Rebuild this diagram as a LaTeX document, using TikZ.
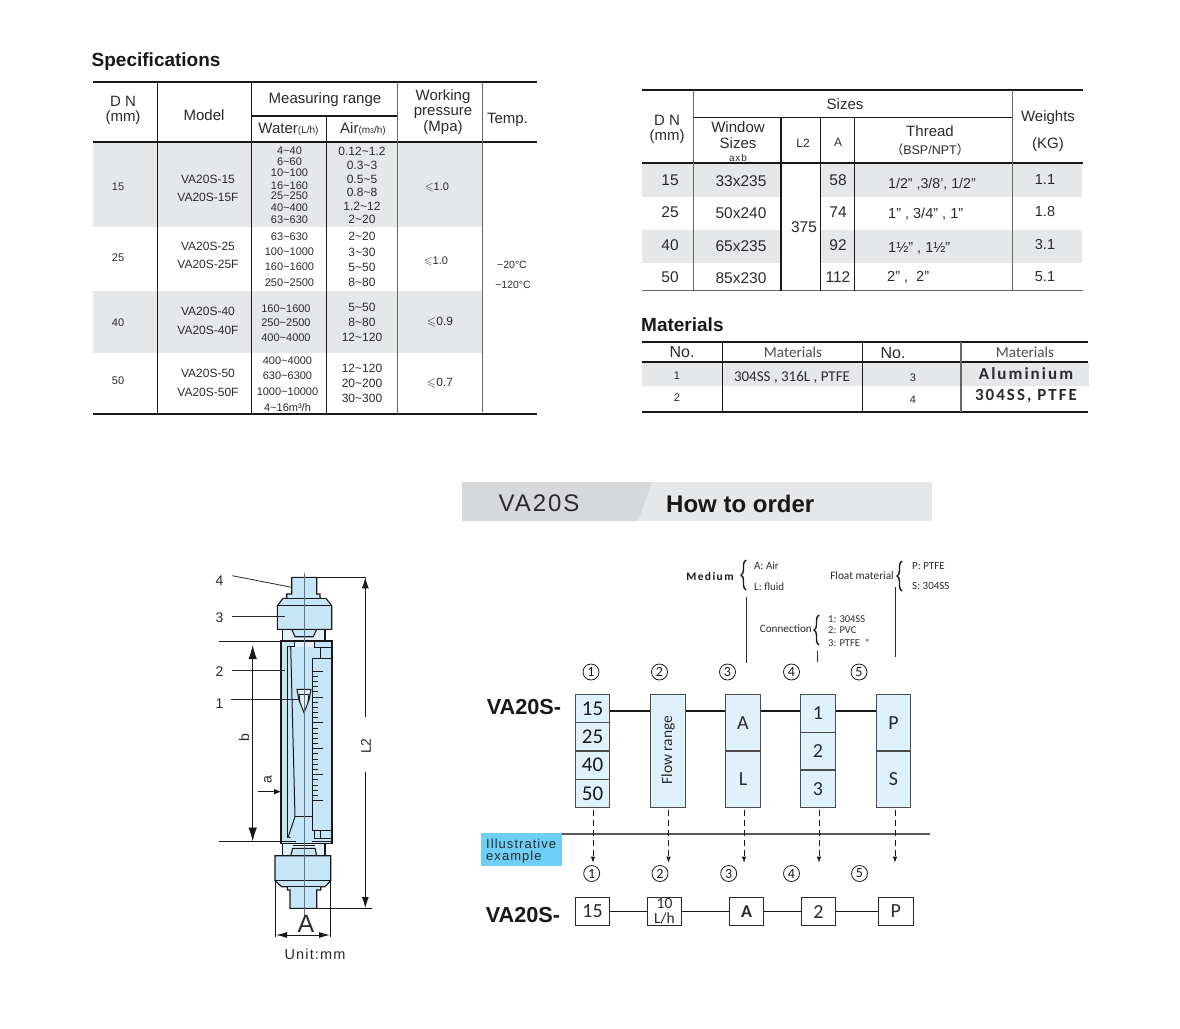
\documentclass[tikz,border=0pt]{standalone}
\usepackage{fontspec}
\usepackage{amssymb}
\usepackage{xcolor}
\usepackage{tikz}
\usetikzlibrary{arrows.meta, decorations.pathreplacing}
\setmainfont{Liberation Sans}
\newfontfamily\orderfont{Carlito}
\newfontfamily\spacedfont[LetterSpace=12]{Carlito}
\newfontfamily\widefont[LetterSpace=8]{Liberation Sans}
\newfontfamily\cjkfont{Noto Sans CJK SC}
\newcommand{\fs}[1]{\fontsize{#1}{#1}\selectfont}
\newcommand{\tld}{\textasciitilde}
\definecolor{inkdark}{HTML}{1A1718}
\definecolor{inkgray}{HTML}{2A2A2C}
\definecolor{bandgray}{HTML}{E6E7E8}
\definecolor{bannerdark}{HTML}{D6D8DA}
\definecolor{partblue}{HTML}{C6E6F8}
\definecolor{partpale}{HTML}{E2F2FB}
\definecolor{optblue}{HTML}{DFF2FC}
\definecolor{tagblue}{HTML}{6DCFF6}
\definecolor{axisgray}{HTML}{5A7688}
\tikzset{
  txt/.style={inner sep=0pt, text=inkgray},
  head/.style={txt, font=\fs{15}},
  cellsm/.style={txt, font=\fs{11}},
  cellmd/.style={txt, font=\fs{12}},
  cellbig/.style={txt, font=\fs{15.5}},
  title/.style={inner sep=0pt, text=inkdark, font=\bfseries\fs{19}},
  rule/.style={line width=2pt, draw=inkdark},
  grid/.style={line width=1.1pt, draw=inkdark},
  gridgray/.style={line width=1.3pt, draw=black!60},
  part/.style={line width=1.1pt, draw=inkdark, fill=partblue},
  pale/.style={line width=1.1pt, draw=inkdark, fill=partpale},
  thinpart/.style={line width=1pt, draw=inkdark},
  tick/.style={line width=.8pt, draw=inkdark},
  dim/.style={line width=.9pt, draw=inkdark},
  bigtip/.style={{Latex[length=14pt,width=8.5pt]}-{Latex[length=14pt,width=8.5pt]}},
  lead/.style={line width=.8pt, draw=inkgray},
  optbox/.style={draw=black!70, line width=1.2pt, fill=optblue, inner sep=0pt, minimum width=34.4pt, text=inkgray, font=\orderfont\fs{20}},
  picked/.style={draw=inkgray, line width=1pt, fill=white, inner sep=0pt, minimum width=34.4pt, minimum height=28.4pt, text=inkgray, font=\orderfont\fs{20}},
  link/.style={line width=2.3pt, draw=inkdark},
  linklow/.style={line width=1.7pt, draw=inkdark},
  dropline/.style={dash pattern=on 6pt off 4pt, line width=.9pt, draw=inkdark, -{Latex[length=6pt,width=4.5pt]}},
  circnum/.style={circle, draw=inkdark, line width=.8pt, inner sep=0pt, minimum size=16pt, text=inkdark, font=\orderfont\fs{14}},
  legend/.style={inner sep=0pt, text=inkgray, font=\orderfont\fs{11}},
  curly/.style={decorate, decoration={brace, amplitude=5pt}, line width=1.4pt, draw=inkdark},
}
\begin{document}
\begin{tikzpicture}[x=1pt, y=-1pt]
  \useasboundingbox (0,0) rectangle (1180,1028);

  % Specifications table: bands and lines
  \fill[bandgray] (93,142) rectangle (483,226.5);
  \fill[bandgray] (93,290.7) rectangle (483,352.7);
  \draw[rule] (93,82) -- (537,82);
  \draw[rule] (93,141.7) -- (537,141.7);
  \draw[grid] (93,414) -- (537,414);
  \draw[grid] (251.3,116) -- (397.7,116);
  \foreach \x in {157.3, 251.3} {\draw[grid] (\x,82) -- (\x,414);}
  \draw[grid] (326.7,116) -- (326.7,414);
  \draw[gridgray] (397.7,82) -- (397.7,414);
  \draw[gridgray] (482.7,82) -- (482.7,412);
  % Specifications table: header
  \node[title, anchor=west] (spec-title) at (91.5,62) {Specifications};
  \node[head] (spec-dn) at (123,101) {D N};
  \node[head] (spec-mm) at (123,117.5) {(mm)};
  \node[head] (spec-model) at (204,115) {Model};
  \node[head] (spec-range) at (325,100) {Measuring range};
  \node[head] (spec-water) at (288.5,129) {Water{\fs{10}(L/h)}};
  \node[head] (spec-air) at (363,129) {Air{\fs{10}(m{\fs{7}3}/h)}};
  \node[head] (spec-work) at (443,96.5) {Working};
  \node[head] (spec-press) at (443,113.5) {pressure};
  \node[head] (spec-mpa) at (443,128) {(Mpa)};
  \node[head] (spec-temp) at (507.5,119.5) {Temp.};
  % Specifications table: DN and model columns
  \foreach \dn/\y/\ya/\yb in {15/186.5/179/197, 25/258/246/264, 40/323/311/330, 50/380.5/373/392} {
    \node[cellsm] (dn-\dn) at (118,\y) {\dn};
    \node[cellmd] (model-\dn) at (208,\ya) {VA20S-\dn};
    \node[cellmd] (modelf-\dn) at (208,\yb) {VA20S-\dn F};
  }
  % Specifications table: water column
  \foreach \y/\t [count=\i] in {150.5/4\tld40, 162/6\tld60, 173/10\tld100, 185.5/16\tld160, 196/25\tld250, 208/40\tld400, 220/63\tld630,
      236.5/63\tld630, 252/100\tld1000, 267/160\tld1600, 282.5/250\tld2500} {
    \node[cellsm] (water-\i) at (289.5,\y) {\t};
  }
  \foreach \y/\t [count=\i from 12] in {308.5/160\tld1600, 323/250\tld2500, 338/400\tld4000} {
    \node[cellsm] (water-\i) at (286,\y) {\t};
  }
  \foreach \y/\t [count=\i from 15] in {361/400\tld4000, 376/630\tld6300, 392/1000\tld10000, 407.5/{4\tld16m³/h}} {
    \node[cellsm] (water-\i) at (287.5,\y) {\t};
  }
  % Specifications table: air column
  \foreach \y/\t [count=\i] in {151/0.12\tld1.2, 165/0.3\tld3, 179/0.5\tld5, 192/0.8\tld8, 206/1.2\tld12, 219/2\tld20,
      236/2\tld20, 252/3\tld30, 267/5\tld50, 282/8\tld80,
      307/5\tld50, 322/8\tld80, 337/12\tld120,
      368/12\tld120, 383/20\tld200, 398/30\tld300} {
    \node[cellmd] (air-\i) at (362,\y) {\t};
  }
  % Specifications table: pressure and temperature
  \node[cellsm] (press-15) at (437,187.5) {$\leqslant$1.0};
  \node[cellsm] (press-25) at (436,261) {$\leqslant$1.0};
  \node[cellmd] (press-40) at (440,322) {$\leqslant$0.9};
  \node[cellmd] (press-50) at (440,383) {$\leqslant$0.7};
  \node[cellsm, font=\fs{10.5}] (temp-low) at (512,265) {\textminus20°C};
  \node[cellsm, font=\fs{10.5}] (temp-high) at (513,285) {\tld120°C};

  % Sizes table: bands and lines
  \fill[bandgray] (642,164) rectangle (781,197.3);
  \fill[bandgray] (820,164) rectangle (1082,197.3);
  \fill[bandgray] (642,230) rectangle (781,262.7);
  \fill[bandgray] (820,230) rectangle (1082,262.7);
  \draw[rule] (642,90) -- (1083,90);
  \draw[rule] (642,163.3) -- (1083,163.3);
  \draw[gridgray] (642,290.7) -- (1083,290.7);
  \draw[grid] (693.3,117.3) -- (1012.7,117.3);
  \draw[gridgray] (693.3,90) -- (693.3,290.7);
  \draw[grid] (781,117.3) -- (781,290.7);
  \draw[grid] (820.3,117.3) -- (820.3,290.7);
  \draw[grid] (854.3,117.3) -- (854.3,290.7);
  \draw[gridgray] (1012.7,90) -- (1012.7,290.7);
  % Sizes table: header
  \node[head] (size-dn) at (667,120) {D N};
  \node[head] (size-mm) at (667,136.5) {(mm)};
  \node[head] (size-head) at (845,104.5) {Sizes};
  \node[head] (size-win) at (738,127.5) {Window};
  \node[head] (size-sizes) at (738,143) {Sizes};
  \node[txt, font=\widefont\fs{10}] (size-axb) at (738,157.5) {axb};
  \node[cellmd] (size-l2) at (803,143) {L2};
  \node[cellmd] (size-a) at (838,142.5) {A};
  \node[head] (size-thread) at (930,131.5) {Thread};
  \node[txt, font=\fs{12.5}] (size-bsp) at (930,149.5) {{\cjkfont（}BSP/NPT{\cjkfont）}};
  \node[head] (size-wt) at (1048,118) {Weights};
  \node[head] (size-kg) at (1048,145) {(KG)};
  % Sizes table: rows
  \foreach \dn/\win/\a/\w/\y in {15/33x235/58/1.1/180, 25/50x240/74/1.8/212.5, 40/65x235/92/3.1/245, 50/85x230/112/5.1/277} {
    \node[cellbig] (row-\dn) at (670,\y) {\dn};
    \node[cellbig] (win-\dn) at (741,\y+1) {\win};
    \node[cellbig] (a-\dn) at (838,\y) {\a};
    \node[cellbig, font=\fs{14.5}] (wt-\dn) at (1045,\y-.5) {\w};
  }
  \node[cellbig] (len-all) at (804,227) {375};
  \node[head, font=\fs{14.2}, anchor=west] (th-15) at (888,184) {1/2" ,3/8', 1/2"};
  \node[head, font=\fs{14.5}, anchor=west] (th-25) at (888,214) {1" , 3/4" , 1"};
  \node[head, font=\fs{14.5}, anchor=west] (th-40) at (888,248) {1½" , 1½"};
  \node[head, font=\fs{14.5}, anchor=west] (th-50) at (887,277) {2" ,\ \ 2"};

  % Materials table
  \fill[bandgray] (642,362) rectangle (1089,385.7);
  \draw[rule] (642,341.7) -- (1088,341.7);
  \draw[rule] (642,361.7) -- (1088,361.7);
  \draw[rule] (642,411.7) -- (1088,411.7);
  \draw[grid] (722.7,341.7) -- (722.7,411.7);
  \draw[grid] (862.3,341.7) -- (862.3,411.7);
  \draw[gridgray] (961,341.7) -- (961,411.7);
  \node[title, anchor=west] (mat-title) at (641,325) {Materials};
  \node[head, font=\fs{16}] (mat-no-a) at (682,352) {No.};
  \node[txt, font=\orderfont\fs{15.2}, text=black!70] (mat-name-a) at (793,352.5) {Materials};
  \node[head, font=\fs{16}] (mat-no-b) at (893,353) {No.};
  \node[txt, font=\orderfont\fs{15.2}, text=black!70] (mat-name-b) at (1025,352) {Materials};
  \node[cellsm] (mat-1) at (677,376) {1};
  \node[txt, font=\orderfont\fs{15}] (mat-1-text) at (792,377) {304SS , 316L , PTFE};
  \node[cellsm] (mat-3) at (913,378) {3};
  \node[txt, font=\spacedfont\bfseries\fs{17}] (mat-3-text) at (1026,374) {Aluminium};
  \node[cellsm] (mat-2) at (677,398) {2};
  \node[cellsm] (mat-4) at (913,400) {4};
  \node[txt, font=\spacedfont\bfseries\fs{17}] (mat-4-text) at (1026,396) {304SS, PTFE};

  % How to order banner
  \fill[bandgray] (462,482) rectangle (932,521);
  \fill[bannerdark] (462,482) -- (652,482) -- (638,521) -- (462,521) -- cycle;
  \node[txt, font=\widefont\fs{24}] (ban-model) at (539,503) {VA20S};
  \node[title, font=\bfseries\fs{24}, anchor=west] (ban-title) at (666,503.5) {How to order};

  % Flowmeter: upper fitting
  \draw[pale] (282.3,629.3) rectangle (325,641);
  \draw[part] (291.7,629.3) -- (295,636.7) -- (313.3,636.7) -- (316.7,629.3) -- cycle;
  \draw[part] (291.7,577.3) -- (316.7,577.3) -- (316.7,594) -- (320,594) -- (320,598.3) -- (326,598.3) -- (331.7,605.7) -- (331.7,629.3)
    -- (277.3,629.3) -- (277.3,605.7) -- (283,598.3) -- (286.7,598.3) -- (286.7,594) -- (291.7,594) -- cycle;
  \draw[thinpart] (277.3,605.7) -- (331.7,605.7);
  \draw[thinpart] (283,598.3) -- (326,598.3);
  % Flowmeter: body and tube
  \draw[part] (281,641) rectangle (332,843.3);
  \fill[partpale] (295,641) rectangle (314.3,647);
  \draw[thinpart] (281,641) -- (332,641);
  \draw[thinpart] (287.3,646) -- (294.3,646) -- (294.3,641);
  \draw[thinpart] (314.3,641) -- (314.3,647) -- (332,647);
  \draw[thinpart] (287.3,646) -- (287.3,838);
  \draw[thinpart] (290.7,647) -- (295,816.7) -- (288.3,836.7) -- (290.3,838);
  \draw[thinpart] (295,816.7) -- (311.7,816.7);
  \draw[thinpart] (320,647) -- (320,658);
  % Flowmeter: scale plate
  \draw[thinpart] (312,830.7) -- (312,658) -- (332,658);
  \draw[thinpart] (312,830.7) -- (332,830.7);
  \draw[thinpart] (314,830.7) -- (314,838.3) -- (332,838.3);
  \draw[thinpart] (320,830.7) -- (320,838.3);
  \draw[thinpart] (312,841) -- (332,841);
  \draw[line width=1.4pt, draw=inkdark] (281,841.5) -- (296,841.5);
  \foreach \k in {0,...,5} {
    \draw[tick] (312,{671+\k*25.9}) -- (322.7,{671+\k*25.9});
    \ifnum\k<5
      \foreach \m in {1,...,4} {\draw[tick] (312,{671+\k*25.9+\m*5.18}) -- (318,{671+\k*25.9+\m*5.18});}
    \fi
  }
  % Flowmeter: float
  \draw[thinpart, fill=partpale] (297,689.3) -- (311,689.3) -- (309,700) -- (304,712.7) -- (299,700) -- cycle;
  \draw[thinpart] (299,694) -- (309,694);
  \draw[thinpart] (299,694) -- (300,702);
  \draw[thinpart] (309,694) -- (308,702);
  % Flowmeter: lower fitting
  \draw[pale] (282.3,843.3) rectangle (325,855.7);
  \draw[part] (290.7,855.7) -- (292.7,848.3) -- (315,848.3) -- (316.7,855.7) -- cycle;
  \draw[thinpart] (292.7,845) -- (315,845);
  \draw[part] (275,855.7) -- (330.7,855.7) -- (330.7,880.7) -- (325,886.7) -- (320.7,886.7) -- (320.7,890) -- (316.7,890) -- (316.7,908.3)
    -- (290,908.3) -- (290,890) -- (287.3,890) -- (287.3,886.7) -- (281.7,886.7) -- (275,880.7) -- cycle;
  \draw[thinpart] (275,880.7) -- (330.7,880.7);
  \draw[thinpart] (281.7,886.7) -- (325,886.7);
  % Flowmeter: centre line
  \draw[line width=.8pt, draw=axisgray] (304,573) -- (304,917);

  % Flowmeter: part labels and leaders
  \node[head, font=\fs{14}] (part-4) at (219.5,580.5) {4};
  \node[head, font=\fs{14}] (part-3) at (219.5,617.5) {3};
  \node[head, font=\fs{14}] (part-2) at (219.5,672) {2};
  \node[head, font=\fs{14}] (part-1) at (219.5,703.5) {1};
  \coordinate (end-4) at (291.7,587.3);
  \coordinate (end-3) at (285,616.7);
  \coordinate (end-2) at (285,670);
  \coordinate (end-1) at (300,699.3);
  \draw[lead] (232.3,575.7) -- (end-4);
  \draw[lead] (232.3,616.7) -- (end-3);
  \draw[lead] (232.3,670) -- (end-2);
  \draw[lead] (231,699.3) -- (end-1);

  % Flowmeter: dimensions
  \draw[dim] (219.3,641) -- (281,641);
  \draw[dim] (219.3,841.7) -- (296,841.7);
  \draw[dim, bigtip] (252.7,645) -- (252.7,841.5);
  \node[txt, font=\fs{14}, rotate=90] (dim-b) at (244,738) {b};
  \draw[dim] (316.7,577.3) -- (366,577.3);
  \draw[dim] (316.7,908) -- (371.7,908);
  \draw[dim, -{Latex[length=11pt,width=7pt]}] (365.3,716.7) -- (365.3,577.3);
  \draw[dim, -{Latex[length=11pt,width=7pt]}] (365.3,772.3) -- (365.3,908);
  \node[txt, font=\fs{14}, rotate=90] (dim-l2) at (366,746) {L2};
  \draw[dim, -{Latex[length=7pt,width=6pt]}] (258.3,791.7) -- (281,791.7);
  \node[txt, font=\fs{14}, rotate=90] (dim-a) at (268,780) {a};
  \draw[dim] (275,880.7) -- (275,937.3);
  \draw[dim] (330.5,880.7) -- (330.5,937.3);
  \draw[dim, {Latex[length=11pt,width=6pt]}-{Latex[length=11pt,width=6pt]}] (276,935) -- (330,935);
  \node[txt, font=\fs{25}] (dim-cap) at (306,924) {A};
  \node[txt, font=\widefont\fs{14.5}] (unit) at (315,954) {Unit:mm};

  % Option legend above the order code
  \node[txt, font=\spacedfont\bfseries\fs{11.5}, text=inkdark] (leg-medium) at (710,576.5) {Medium};
  \coordinate (brace-m-top) at (746,560);
  \coordinate (brace-m-low) at (746,590);
  \draw[curly] (brace-m-low) -- (brace-m-top);
  \node[legend, anchor=west] (leg-air) at (754,565.5) {A: Air};
  \node[legend, anchor=west] (leg-fluid) at (754,587) {L: fluid};
  \node[legend, font=\orderfont\fs{11.3}, anchor=east] (leg-float) at (894,576) {Float material};
  \coordinate (brace-f-top) at (902,561);
  \coordinate (brace-f-low) at (902,591);
  \draw[curly] (brace-f-low) -- (brace-f-top);
  \node[legend, anchor=west] (leg-ptfe) at (912,566) {P: PTFE};
  \node[legend, anchor=west] (leg-ss) at (912,586) {S: 304SS};
  \node[legend, font=\orderfont\fs{11.2}, anchor=east] (leg-conn) at (812,629) {Connection};
  \coordinate (brace-c-top) at (819,615);
  \coordinate (brace-c-low) at (819,645);
  \draw[curly] (brace-c-low) -- (brace-c-top);
  \node[legend, font=\orderfont\fs{10.5}, anchor=west] (leg-c1) at (828,619) {1: 304SS};
  \node[legend, font=\orderfont\fs{10.5}, anchor=west] (leg-c2) at (828,630.5) {2: PVC};
  \node[legend, font=\orderfont\fs{10.5}, anchor=west] (leg-c3) at (828,643) {3: PTFE\ \ *};
  \coordinate (tie-m-a) at (746.3,596.7);
  \coordinate (tie-m-b) at (746.3,663);
  \coordinate (tie-f-a) at (895.7,587.3);
  \coordinate (tie-f-b) at (895.7,656.7);
  \coordinate (tie-c-a) at (817.7,651);
  \coordinate (tie-c-b) at (817.7,662);
  \draw[lead] (tie-m-a) -- (tie-m-b);
  \draw[lead] (tie-f-a) -- (tie-f-b);
  \draw[lead] (tie-c-a) -- (tie-c-b);

  % Order code: numbers and option boxes
  \foreach \x/\n in {591/1, 659.5/2, 727.5/3, 791.5/4, 859/5} {
    \node[circnum] (top-\n) at (\x,672) {\n};
  }
  \node[title, font=\bfseries\fs{21.7}] (code-top) at (524,707) {VA20S-};
  \node[optbox, minimum height=28.4pt, font=\orderfont\fs{21}, text=inkdark] (dn-a) at (592.5,708.5) {15};
  \node[optbox, minimum height=28.3pt, font=\orderfont\fs{21}, text=inkdark] (dn-b) at (592.5,736.8) {25};
  \node[optbox, minimum height=28.3pt, font=\orderfont\fs{21}, text=inkdark] (dn-c) at (592.5,765.1) {40};
  \node[optbox, minimum height=28.4pt, font=\orderfont\fs{21}, text=inkdark] (dn-d) at (592.5,793.5) {50};
  \node[optbox, minimum height=113.4pt] (flow) at (668,751) {};
  \node[txt, font=\orderfont\fs{15.5}, rotate=90] (flow-text) at (668,750) {Flow range};
  \node[optbox, minimum height=56.7pt] (med-a) at (743,722.7) {\raisebox{-4pt}{A}};
  \node[optbox, minimum height=56.7pt] (med-l) at (743,779.4) {L};
  \node[optbox, minimum height=37.8pt] (con-1) at (818,713.2) {1};
  \node[optbox, minimum height=37.8pt] (con-2) at (818,751) {2};
  \node[optbox, minimum height=37.8pt] (con-3) at (818,788.8) {3};
  \node[optbox, minimum height=56.7pt] (flt-p) at (893.5,722.7) {P};
  \node[optbox, minimum height=56.7pt] (flt-s) at (893.5,779.4) {S};
  \coordinate (lane) at (0,710.7);
  \draw[link] (dn-a.east |- lane) -- (flow.west |- lane);
  \draw[link] (flow.east |- lane) -- (med-a.west |- lane);
  \draw[link] (med-a.east |- lane) -- (con-1.west |- lane);
  \draw[link] (con-1.east |- lane) -- (flt-p.west |- lane);

  % Illustrative example divider
  \draw[line width=1.3pt, draw=black!65] (561,834) -- (930,834);
  \node[fill=tagblue, minimum width=81pt, minimum height=32.4pt, inner sep=0pt] (tag) at (521.2,849.5) {};
  \node[inner sep=0pt, text=inkgray, font=\widefont\fs{13}, anchor=west] (tag-a) at (486,843.5) {Illustrative};
  \node[inner sep=0pt, text=inkgray, font=\widefont\fs{13}, anchor=west] (tag-b) at (486,857) {example};

  % Dashed arrows down to the example
  \coordinate (drop-1) at (593,862.7);
  \coordinate (drop-2) at (668.5,862.7);
  \coordinate (drop-3) at (744,862.7);
  \coordinate (drop-4) at (819,862.7);
  \coordinate (drop-5) at (895,862.7);
  \draw[dropline, shorten <=2pt] (drop-1 |- dn-d.south) -- (drop-1);
  \draw[dropline, shorten <=2pt] (drop-2 |- flow.south) -- (drop-2);
  \draw[dropline, shorten <=2pt] (drop-3 |- med-l.south) -- (drop-3);
  \draw[dropline, shorten <=2pt] (drop-4 |- con-3.south) -- (drop-4);
  \draw[dropline, shorten <=2pt] (drop-5 |- flt-s.south) -- (drop-5);

  % Example order code
  \foreach \x/\n in {591.7/1, 660/2, 728.7/3, 791.5/4, 859.5/5} {
    \node[circnum] (low-\n) at (\x,873.5) {\n};
  }
  \node[title, font=\bfseries\fs{21.7}] (code-low) at (523,915) {VA20S-};
  \node[picked] (ex-dn) at (592.5,911.5) {15};
  \node[picked] (ex-flow) at (664.5,911.5) {};
  \node[txt, font=\orderfont\fs{15.5}] (ex-flow-a) at (664.5,903.5) {10};
  \node[txt, font=\orderfont\fs{15.5}] (ex-flow-b) at (664.5,918.5) {L/h};
  \node[picked, font=\orderfont\bfseries\fs{18}] (ex-med) at (746.5,911.5) {A};
  \node[picked] (ex-con) at (818.5,911.5) {2};
  \node[picked] (ex-flt) at (895.8,911.5) {P};
  \draw[linklow] (ex-dn) -- (ex-flow);
  \draw[linklow] (ex-flow) -- (ex-med);
  \draw[linklow] (ex-med) -- (ex-con);
  \draw[linklow] (ex-con) -- (ex-flt);
\end{tikzpicture}
\end{document}
